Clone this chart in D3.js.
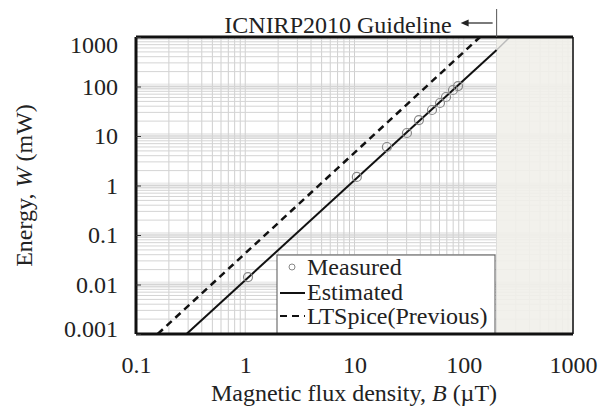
<!DOCTYPE html>
<html>
<head>
<meta charset="utf-8">
<script src="https://cdn.jsdelivr.net/npm/d3@7"></script>
<style>
  body { margin: 0; background: #fff; }
  text { font-family: "Liberation Serif", "Times New Roman", serif; fill: #222; }
</style>
</head>
<body>
<div id="chart"></div>
<script>
// data
var measuredB = [1.06, 10.5, 19.8, 30.2, 38.9, 51.2, 60.6, 68.8, 79.7, 88.6];
var measuredW = [0.0141, 1.49, 6.0, 11.5, 21, 33.5, 46.4, 61.4, 85, 102];
var estimatedB = [0.29, 200];
var estimatedW = [0.001, 546];
var extensionB = [200, 265];
var extensionW = [546, 1000];
var ltspiceB = [0.158, 141];
var ltspiceW = [0.001, 1000];
var guidelineB = 200;
var xTicks = [0.1, 1, 10, 100, 1000];
var yTicks = [0.001, 0.01, 0.1, 1, 10, 100, 1000];
var legendLabels = ["Measured", "Estimated", "LTSpice(Previous)"];

var svgWidth = 604, svgHeight = 408;
var margin = { top: 37, right: 31, bottom: 74, left: 136 };
var width = svgWidth - margin.left - margin.right;
var height = svgHeight - margin.top - margin.bottom;

var svg = d3.select("#chart").append("svg")
  .attr("width", svgWidth)
  .attr("height", svgHeight);

var chartGroup = svg.append("g")
  .attr("transform", `translate(${margin.left}, ${margin.top})`);

var x = d3.scaleLog().domain([0.1, 1000]).range([0, width]);
var y = d3.scaleLog().domain([0.001, 1000]).range([height, 0]);

// minor values 1..9 per decade
function minorValues(lo, hi) {
  var out = [];
  for (var e = Math.log10(lo); e < Math.log10(hi); e++) {
    for (var m = 1; m < 10; m++) out.push(m * Math.pow(10, e));
  }
  out.push(hi);
  return out;
}

// major horizontal bands
chartGroup.append("g").selectAll("rect")
  .data(yTicks.slice(1, -1))
  .enter().append("rect")
  .attr("x", 0).attr("width", width)
  .attr("y", d => y(d) - 3).attr("height", 6)
  .attr("fill", "#ececec");

// grid
chartGroup.append("g").selectAll("line")
  .data(minorValues(0.1, 1000))
  .enter().append("line")
  .attr("x1", d => x(d)).attr("x2", d => x(d))
  .attr("y1", 0).attr("y2", height)
  .attr("stroke", "#cfcfcf").attr("stroke-width", 1);

chartGroup.append("g").selectAll("line")
  .data(minorValues(0.001, 1000))
  .enter().append("line")
  .attr("x1", 0).attr("x2", width)
  .attr("y1", d => y(d)).attr("y2", d => y(d))
  .attr("stroke", "#d4d4d4").attr("stroke-width", 1);

// region above guideline
chartGroup.append("rect")
  .attr("x", x(guidelineB)).attr("y", 0)
  .attr("width", width - x(guidelineB)).attr("height", height)
  .attr("fill", "#f1f0ea").attr("opacity", 0.9);

var line = d3.line().x(d => x(d[0])).y(d => y(d[1]));

// LTSpice dashed
chartGroup.append("path")
  .datum(d3.zip(ltspiceB, ltspiceW))
  .attr("d", line)
  .attr("fill", "none").attr("stroke", "#111")
  .attr("stroke-width", 2.5).attr("stroke-dasharray", "7,5");

// estimated
chartGroup.append("path")
  .datum(d3.zip(estimatedB, estimatedW))
  .attr("d", line)
  .attr("fill", "none").attr("stroke", "#111").attr("stroke-width", 2);

chartGroup.append("path")
  .datum(d3.zip(extensionB, extensionW))
  .attr("d", line)
  .attr("fill", "none").attr("stroke", "#bbb").attr("stroke-width", 1.5);

// measured
chartGroup.selectAll("circle")
  .data(d3.zip(measuredB, measuredW))
  .enter().append("circle")
  .attr("cx", d => x(d[0])).attr("cy", d => y(d[1]))
  .attr("r", 4.5)
  .attr("fill", "none").attr("stroke", "#888").attr("stroke-width", 1.2);

// legend
var legend = chartGroup.append("g").attr("transform", `translate(${141}, ${218})`);
legend.append("rect")
  .attr("width", 218).attr("height", 79)
  .attr("fill", "#fff").attr("stroke", "#555").attr("stroke-width", 1);
legend.append("circle").attr("cx", 15).attr("cy", 12).attr("r", 3)
  .attr("fill", "none").attr("stroke", "#888");
legend.append("line").attr("x1", 3).attr("x2", 28).attr("y1", 38).attr("y2", 38)
  .attr("stroke", "#111").attr("stroke-width", 2);
legend.append("line").attr("x1", 3).attr("x2", 28).attr("y1", 61).attr("y2", 61)
  .attr("stroke", "#111").attr("stroke-width", 2).attr("stroke-dasharray", "7,5");
legend.selectAll("text")
  .data(legendLabels)
  .enter().append("text")
  .attr("x", 30)
  .attr("y", (d, i) => 20 + i * 24.5)
  .attr("font-size", "24px")
  .text(d => d);

// frame
chartGroup.append("line").attr("x1", width).attr("x2", width).attr("y1", 0).attr("y2", height)
  .attr("stroke", "#444").attr("stroke-width", 2);
chartGroup.append("line").attr("x1", 0).attr("x2", width).attr("y1", height).attr("y2", height)
  .attr("stroke", "#111").attr("stroke-width", 3);
chartGroup.append("line").attr("x1", 0).attr("x2", width).attr("y1", 0).attr("y2", 0)
  .attr("stroke", "#111").attr("stroke-width", 3);
chartGroup.append("line").attr("x1", 0).attr("x2", 0).attr("y1", 0).attr("y2", height)
  .attr("stroke", "#111").attr("stroke-width", 3);

// guideline marker above the plot
chartGroup.append("line")
  .attr("x1", x(guidelineB)).attr("x2", x(guidelineB))
  .attr("y1", -28).attr("y2", 0)
  .attr("stroke", "#555").attr("stroke-width", 1);
chartGroup.append("line")
  .attr("x1", x(guidelineB) - 4).attr("x2", x(guidelineB) - 30)
  .attr("y1", -14).attr("y2", -14)
  .attr("stroke", "#222").attr("stroke-width", 1.2);
chartGroup.append("path")
  .attr("d", `M${x(guidelineB) - 36},-14 L${x(guidelineB) - 28},-17.5 L${x(guidelineB) - 28},-10.5 Z`)
  .attr("fill", "#222");
chartGroup.append("text")
  .attr("x", x(guidelineB) - 45).attr("y", -4)
  .attr("text-anchor", "end")
  .attr("font-size", "24px")
  .text("ICNIRP2010 Guideline");

// axes
var bottomAxis = d3.axisBottom(x).tickValues(xTicks).tickFormat(d => d3.format("~g")(d)).tickSize(0).tickPadding(22);
var leftAxis = d3.axisLeft(y).tickValues(yTicks).tickFormat(d => d3.format("~f")(d)).tickSize(-5).tickPadding(18);

var xAxisG = chartGroup.append("g")
  .attr("transform", `translate(0, ${height})`)
  .call(bottomAxis);
var yAxisG = chartGroup.append("g").call(leftAxis);

[xAxisG, yAxisG].forEach(function(g) {
  g.select(".domain").remove();
  g.selectAll("text").attr("font-size", "24px").attr("font-family", "Liberation Serif").attr("fill", "#222");
  g.selectAll("line").attr("stroke", "#333");
});
xAxisG.selectAll("text").attr("dy", "0.71em");
yAxisG.selectAll("text").attr("dy", d => d === 1000 ? "0.65em" : d === 0.001 ? "0.1em" : "0.32em");

// axis titles
var yTitle = chartGroup.append("text")
  .attr("transform", "rotate(-90)")
  .attr("x", -height / 2)
  .attr("y", -margin.left + 32)
  .attr("text-anchor", "middle")
  .attr("font-size", "24px");
yTitle.append("tspan").text("Energy, ");
yTitle.append("tspan").attr("font-style", "italic").text("W");
yTitle.append("tspan").text(" (mW)");

var xTitle = chartGroup.append("text")
  .attr("x", 354 - margin.left)
  .attr("y", height + 67)
  .attr("text-anchor", "middle")
  .attr("font-size", "24px");
xTitle.append("tspan").text("Magnetic flux density, ");
xTitle.append("tspan").attr("font-style", "italic").text("B");
xTitle.append("tspan").text(" (\u00b5T)");
</script>
</body>
</html>
